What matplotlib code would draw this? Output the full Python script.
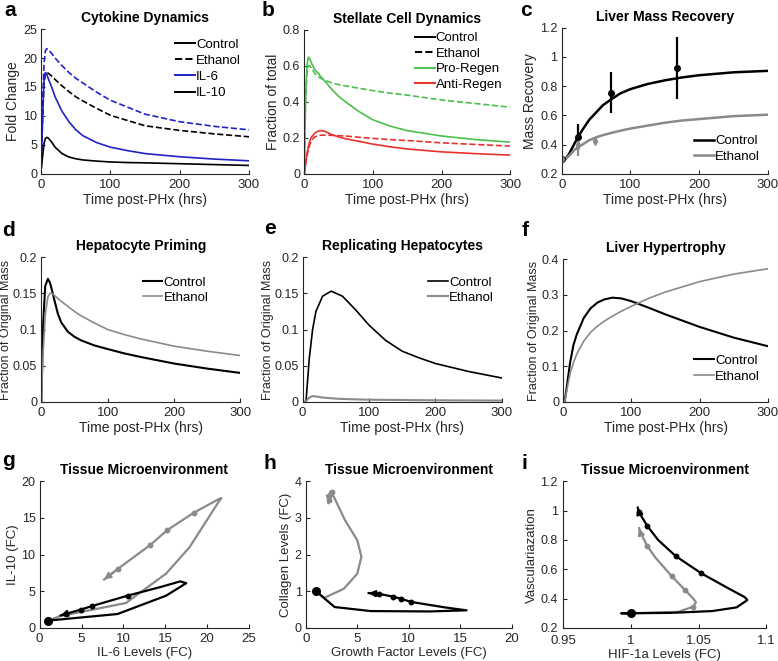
import matplotlib.pyplot as plt
from matplotlib.ticker import FormatStrFormatter

plt.rcParams['font.family'] = ['Liberation Sans', 'DejaVu Sans']
plt.rcParams['font.size'] = 9.5
plt.rcParams['axes.edgecolor'] = '#262626'
plt.rcParams['xtick.color'] = '#262626'
plt.rcParams['ytick.color'] = '#262626'
plt.rcParams['xtick.direction'] = 'in'
plt.rcParams['ytick.direction'] = 'in'
plt.rcParams['xtick.major.size'] = 3
plt.rcParams['ytick.major.size'] = 3
plt.rcParams['xtick.major.pad'] = 3.5
plt.rcParams['ytick.major.pad'] = 3
plt.rcParams['xtick.labelsize'] = 9.5
plt.rcParams['ytick.labelsize'] = 9

BLUE = '#2222c8'
GREEN = '#4cbf4c'
RED = '#e8312b'
GRAY = '#8a8a8a'

# ---- a: cytokines
t_a = [0, 2, 4, 6, 8, 10, 15, 20, 30, 40, 50, 60, 80, 100, 125, 150, 200, 250, 300]
il6_ctrl = [1, 10, 16, 17.5, 17.2, 16.5, 15, 13.3, 10.8, 9, 7.6, 6.6, 5.4, 4.6, 4.0, 3.5, 2.95, 2.55, 2.25]
il10_ctrl = [1, 3, 5.2, 6.1, 6.3, 6.2, 5.5, 4.6, 3.5, 2.9, 2.6, 2.4, 2.2, 2.05, 1.95, 1.9, 1.75, 1.6, 1.45]
il6_eth = [1, 12, 19, 21.3, 21.6, 21.5, 20.8, 20, 18.7, 17.5, 16.5, 15.7, 14.1, 12.7, 11.5, 10.3, 9.0, 8.2, 7.6]
il10_eth = [1, 10, 15.5, 17.4, 17.5, 17.4, 16.9, 16.3, 15.2, 14.2, 13.3, 12.6, 11.3, 10.1, 9.2, 8.3, 7.5, 6.9, 6.4]

# ---- b: stellate cells
t_b = [0, 2, 4, 6, 8, 10, 15, 20, 25, 30, 40, 50, 60, 80, 100, 125, 150, 200, 250, 300]
pro_ctrl = [0, 0.42, 0.6, 0.648, 0.64, 0.62, 0.58, 0.56, 0.535, 0.515, 0.47, 0.43, 0.40, 0.345, 0.30, 0.265, 0.24, 0.21, 0.19, 0.176]
anti_ctrl = [0, 0.06, 0.11, 0.15, 0.18, 0.2, 0.225, 0.237, 0.24, 0.236, 0.218, 0.205, 0.195, 0.18, 0.165, 0.15, 0.138, 0.122, 0.112, 0.104]
pro_eth = [0, 0.4, 0.56, 0.6, 0.6, 0.59, 0.56, 0.54, 0.53, 0.52, 0.505, 0.495, 0.488, 0.475, 0.462, 0.448, 0.437, 0.41, 0.39, 0.37]
anti_eth = [0, 0.05, 0.1, 0.13, 0.16, 0.18, 0.205, 0.212, 0.215, 0.215, 0.214, 0.212, 0.21, 0.203, 0.197, 0.19, 0.185, 0.172, 0.163, 0.154]

# ---- c: mass recovery
t_c = [0, 5, 10, 20, 30, 40, 50, 60, 72, 85, 100, 125, 150, 175, 200, 250, 300]
mass_ctrl = [0.3, 0.3, 0.33, 0.42, 0.5, 0.57, 0.62, 0.67, 0.71, 0.75, 0.78, 0.815, 0.84, 0.86, 0.875, 0.895, 0.905]
mass_eth = [0.3, 0.3, 0.32, 0.37, 0.4, 0.43, 0.45, 0.465, 0.48, 0.495, 0.51, 0.53, 0.55, 0.565, 0.575, 0.595, 0.605]
exp_t_ctrl = [0, 24, 72, 168]
exp_ctrl = [0.3, 0.45, 0.755, 0.925]
exp_ctrl_err = [0.0, 0.09, 0.14, 0.215]
exp_t_eth = [0, 24, 48]
exp_eth = [0.3, 0.395, 0.425]
exp_eth_err = [0.0, 0.07, 0.02]

# ---- d: priming
t_d = [0, 3, 6, 10, 13, 16, 20, 25, 30, 40, 50, 60, 80, 100, 125, 150, 200, 250, 300]
prime_ctrl = [0, 0.11, 0.16, 0.17, 0.165, 0.155, 0.14, 0.122, 0.11, 0.097, 0.09, 0.085, 0.078, 0.073, 0.067, 0.062, 0.053, 0.046, 0.04]
prime_eth = [0, 0.07, 0.12, 0.145, 0.15, 0.15, 0.147, 0.143, 0.139, 0.132, 0.125, 0.119, 0.109, 0.1, 0.093, 0.087, 0.077, 0.07, 0.064]

# ---- e: replicating
t_e = [0, 5, 10, 15, 20, 30, 43, 60, 80, 100, 125, 150, 175, 200, 250, 300]
rep_ctrl = [0, 0, 0.06, 0.1, 0.125, 0.146, 0.153, 0.146, 0.127, 0.106, 0.085, 0.07, 0.061, 0.053, 0.042, 0.033]
rep_eth = [0, 0.001, 0.006, 0.008, 0.0075, 0.006, 0.005, 0.004, 0.0035, 0.003, 0.0028, 0.0026, 0.0024, 0.0022, 0.002, 0.0018]

# ---- f: hypertrophy
t_f = [0, 2, 5, 10, 15, 20, 30, 40, 50, 60, 72, 85, 100, 125, 150, 200, 250, 300]
hyp_ctrl = [0, 0, 0.04, 0.11, 0.16, 0.19, 0.235, 0.262, 0.278, 0.287, 0.292, 0.29, 0.282, 0.264, 0.245, 0.21, 0.18, 0.156]
hyp_eth = [0, 0, 0.03, 0.08, 0.11, 0.135, 0.17, 0.195, 0.212, 0.226, 0.24, 0.254, 0.268, 0.29, 0.308, 0.337, 0.358, 0.373]

# ---- g: IL-6 vs IL-10 trajectories
g_ctrl_x = [1, 9.3, 15.1, 17.5, 16.8, 14.5, 10.5, 6.3, 4.9, 3.1, 2.5]
g_ctrl_y = [1, 1.9, 4.4, 6.1, 6.35, 5.6, 4.4, 3.0, 2.5, 1.9, 1.7]
g_ctrl_dot_x = [10.5, 6.3, 4.9, 3.1]
g_ctrl_dot_y = [4.4, 3.0, 2.5, 1.9]
g_eth_x = [1, 2.4, 10.3, 15.1, 17.9, 21.5, 21.7, 21.3, 18.4, 15.2, 13.2, 9.4, 7.7]
g_eth_y = [1, 1.6, 3.4, 7.4, 11, 17.4, 17.7, 17.5, 15.7, 13.3, 11.3, 8.1, 6.6]
g_eth_dot_x = [18.4, 15.2, 13.2, 9.4]
g_eth_dot_y = [15.7, 13.3, 11.3, 8.1]

# ---- h: growth factor vs collagen
h_ctrl_x = [1, 2.8, 6.3, 12, 15.6, 13.5, 10.2, 9.2, 8.5, 7.1, 6.1]
h_ctrl_y = [1, 0.57, 0.46, 0.45, 0.48, 0.56, 0.71, 0.8, 0.85, 0.93, 0.95]
h_ctrl_dot_x = [10.2, 9.2, 8.5, 7.1]
h_ctrl_dot_y = [0.71, 0.8, 0.85, 0.93]
h_eth_x = [1, 1.8, 3.7, 5.0, 5.4, 5.0, 3.8, 2.6, 2.4, 2.3, 2.2]
h_eth_y = [1, 0.82, 1.07, 1.48, 1.94, 2.39, 2.94, 3.65, 3.72, 3.65, 3.4]
h_eth_dot_x = [2.5, 2.3]
h_eth_dot_y = [3.7, 3.5]

# ---- i: HIF-1a vs vascularization
i_ctrl_x = [1.0, 0.993, 1.0, 1.03, 1.06, 1.078, 1.086, 1.084, 1.07, 1.052, 1.033, 1.02, 1.012, 1.006, 1.005]
i_ctrl_y = [0.3, 0.3, 0.3, 0.303, 0.315, 0.34, 0.39, 0.41, 0.48, 0.572, 0.69, 0.8, 0.896, 0.988, 1.02]
i_ctrl_dot_x = [1.052, 1.033, 1.012, 1.006]
i_ctrl_dot_y = [0.572, 0.69, 0.896, 0.988]
i_eth_x = [1.0, 1.035, 1.046, 1.048, 1.046, 1.040, 1.030, 1.018, 1.012, 1.007, 1.006]
i_eth_y = [0.3, 0.31, 0.345, 0.375, 0.4, 0.458, 0.554, 0.68, 0.76, 0.85, 0.88]
i_eth_dot_x = [1.046, 1.040, 1.030, 1.012]
i_eth_dot_y = [0.345, 0.458, 0.554, 0.76]

fig = plt.figure(figsize=(7.78, 6.61), dpi=100)

boxes = [
    [0.053, 0.737, 0.267, 0.219], [0.391, 0.737, 0.265, 0.218], [0.722, 0.737, 0.265, 0.221],
    [0.053, 0.392, 0.256, 0.219], [0.389, 0.392, 0.256, 0.219], [0.724, 0.392, 0.263, 0.216],
    [0.051, 0.050, 0.269, 0.222], [0.393, 0.050, 0.265, 0.222], [0.724, 0.050, 0.261, 0.222],
]
letters = 'abcdefghi'
letter_pos = [(0.006, 0.999), (0.336, 0.999), (0.668, 0.999),
              (0.003, 0.666), (0.339, 0.668), (0.670, 0.666),
              (0.003, 0.318), (0.339, 0.313), (0.670, 0.313)]
axs = []
for b, l, p in zip(boxes, letters, letter_pos):
    ax = fig.add_axes(b)
    ax.spines['top'].set_visible(False)
    ax.spines['right'].set_visible(False)
    ax.yaxis.set_major_formatter(FormatStrFormatter('%g'))
    ax.xaxis.set_major_formatter(FormatStrFormatter('%g'))
    fig.text(p[0], p[1], l, fontsize=15, fontweight='bold', va='top')
    axs.append(ax)


def timeax(ax, title, ylabel, ylim, yticks, ysize=10, ypad=2):
    ax.set_xlim(0, 300)
    ax.set_xticks([0, 100, 200, 300])
    ax.set_ylim(*ylim)
    ax.set_yticks(yticks)
    ax.set_title(title, fontweight='bold', fontsize=10, pad=5)
    ax.set_xlabel('Time post-PHx (hrs)', fontsize=10, color='#262626', labelpad=1.5)
    ax.set_ylabel(ylabel, fontsize=ysize, color='#262626', labelpad=ypad)


def leg(ax, **kw):
    ax.legend(frameon=False, fontsize=9.5, handlelength=1.5, handletextpad=0.1,
              borderaxespad=0.2, **kw)


# a
ax = axs[0]
ax.plot(t_a, il6_eth, '--', color=BLUE, lw=1.2)
ax.plot(t_a, il10_eth, '--', color='k', lw=1.2)
ax.plot(t_a, il6_ctrl, color=BLUE, lw=1.2)
ax.plot(t_a, il10_ctrl, color='k', lw=1.2)
ax.plot([], [], color='k', lw=1.4, label='Control')
ax.plot([], [], '--', color='k', lw=1.4, label='Ethanol')
ax.plot([], [], color=BLUE, lw=1.4, label='IL-6')
ax.plot([], [], color='k', lw=1.4, label='IL-10')
leg(ax, loc='upper right', bbox_to_anchor=(1.0, 0.99), labelspacing=0.3)
timeax(ax, 'Cytokine Dynamics', 'Fold Change', (0, 25), [0, 5, 10, 15, 20, 25])

# b
ax = axs[1]
ax.plot(t_b, pro_eth, '--', color=GREEN, lw=1.2)
ax.plot(t_b, anti_eth, '--', color=RED, lw=1.2)
ax.plot(t_b, pro_ctrl, color=GREEN, lw=1.2)
ax.plot(t_b, anti_ctrl, color=RED, lw=1.2)
ax.plot([], [], color='k', lw=1.4, label='Control')
ax.plot([], [], '--', color='k', lw=1.4, label='Ethanol')
ax.plot([], [], color=GREEN, lw=1.4, label='Pro-Regen')
ax.plot([], [], color=RED, lw=1.4, label='Anti-Regen')
leg(ax, loc='upper right', bbox_to_anchor=(1.0, 1.04), labelspacing=0.25)
timeax(ax, 'Stellate Cell Dynamics', 'Fraction of total', (0, 0.8), [0, 0.2, 0.4, 0.6, 0.8])

# c
ax = axs[2]
ax.plot(t_c, mass_ctrl, color='k', lw=1.8, label='Control')
ax.plot(t_c, mass_eth, color=GRAY, lw=1.8, label='Ethanol')
ax.errorbar(exp_t_ctrl, exp_ctrl, yerr=exp_ctrl_err, fmt='o', color='k', ms=4, elinewidth=1.6, capsize=0)
ax.errorbar(exp_t_eth, exp_eth, yerr=exp_eth_err, fmt='d', color=GRAY, ms=4, elinewidth=1.6, capsize=0)
leg(ax, loc='lower right', bbox_to_anchor=(1.0, 0.02), labelspacing=0.25)
timeax(ax, 'Liver Mass Recovery', 'Mass Recovery', (0.2, 1.2), [0.2, 0.4, 0.6, 0.8, 1.0, 1.2])

# d
ax = axs[3]
ax.plot(t_d, prime_ctrl, color='k', lw=1.5, label='Control')
ax.plot(t_d, prime_eth, color=GRAY, lw=1.2, label='Ethanol')
leg(ax, loc='upper right', bbox_to_anchor=(0.88, 0.92), labelspacing=0.2)
timeax(ax, 'Hepatocyte Priming', 'Fraction of Original Mass', (0, 0.2), [0, 0.05, 0.1, 0.15, 0.2],
       ysize=9, ypad=0.5)

# e
ax = axs[4]
ax.plot(t_e, rep_ctrl, color='k', lw=1.2, label='Control')
ax.plot(t_e, rep_eth, color=GRAY, lw=1.5, label='Ethanol')
leg(ax, loc='upper right', bbox_to_anchor=(1.0, 0.92), labelspacing=0.2)
timeax(ax, 'Replicating Hepatocytes', 'Fraction of Original Mass', (0, 0.2), [0, 0.05, 0.1, 0.15, 0.2],
       ysize=9, ypad=0.5)

# f
ax = axs[5]
ax.plot(t_f, hyp_ctrl, color='k', lw=1.5, label='Control')
ax.plot(t_f, hyp_eth, color=GRAY, lw=1.2, label='Ethanol')
leg(ax, loc='lower right', bbox_to_anchor=(1.0, 0.08), labelspacing=0.25)
timeax(ax, 'Liver Hypertrophy', 'Fraction of Original Mass', (0, 0.4), [0, 0.1, 0.2, 0.3, 0.4],
       ysize=9, ypad=1)


def traj(ax, xs, ys, dx, dy, color, start=True):
    ax.plot(xs, ys, color=color, lw=1.6)
    ax.plot(dx, dy, 'o', color=color, ms=3.2)
    ax.annotate('', xy=(xs[-1], ys[-1]), xytext=(xs[-2], ys[-2]),
                arrowprops=dict(arrowstyle='-|>', color=color, lw=1.6,
                                mutation_scale=9, shrinkA=0, shrinkB=0))
    if start:
        ax.plot(xs[0], ys[0], 'o', color=color, ms=5.5)


def phaseax(ax, xlabel, ylabel, xlim, xticks, ylim, yticks):
    ax.set_xlim(*xlim)
    ax.set_xticks(xticks)
    ax.set_ylim(*ylim)
    ax.set_yticks(yticks)
    ax.set_title('Tissue Microenvironment', fontweight='bold', fontsize=10, pad=5)
    ax.set_xlabel(xlabel, fontsize=9.5, color='#262626', labelpad=1.5)
    ax.set_ylabel(ylabel, fontsize=9.5, color='#262626', labelpad=2)


# g
ax = axs[6]
traj(ax, g_eth_x, g_eth_y, g_eth_dot_x, g_eth_dot_y, GRAY, start=False)
traj(ax, g_ctrl_x, g_ctrl_y, g_ctrl_dot_x, g_ctrl_dot_y, 'k')
phaseax(ax, 'IL-6 Levels (FC)', 'IL-10 (FC)', (0, 25), [0, 5, 10, 15, 20, 25], (0, 20), [0, 5, 10, 15, 20])

# h
ax = axs[7]
traj(ax, h_eth_x, h_eth_y, h_eth_dot_x, h_eth_dot_y, GRAY, start=False)
traj(ax, h_ctrl_x, h_ctrl_y, h_ctrl_dot_x, h_ctrl_dot_y, 'k')
phaseax(ax, 'Growth Factor Levels (FC)', 'Collagen Levels (FC)', (0, 20), [0, 5, 10, 15, 20], (0, 4), [0, 1, 2, 3, 4])

# i
ax = axs[8]
traj(ax, i_eth_x, i_eth_y, i_eth_dot_x, i_eth_dot_y, GRAY, start=False)
traj(ax, i_ctrl_x, i_ctrl_y, i_ctrl_dot_x, i_ctrl_dot_y, 'k')
phaseax(ax, 'HIF-1a Levels (FC)', 'Vasculariazation', (0.95, 1.1), [0.95, 1.0, 1.05, 1.1],
        (0.2, 1.2), [0.2, 0.4, 0.6, 0.8, 1.0, 1.2])
ax.tick_params(axis='x', pad=5)
ax.tick_params(axis='y', pad=4)

fig.savefig('out.png', dpi=100)
